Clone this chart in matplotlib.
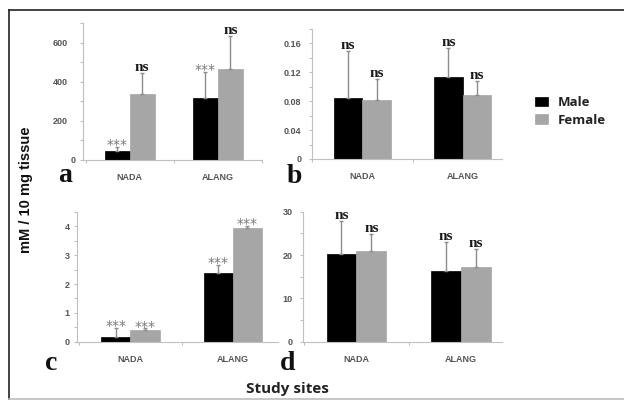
import numpy as np
import matplotlib
matplotlib.use("Agg")
import matplotlib.pyplot as plt
from matplotlib.lines import Line2D
from matplotlib.ticker import FixedLocator, MultipleLocator

# data
sites = ["NADA", "ALANG"]

male_a = [46, 318]
male_a_sd = [22, 132]
female_a = [340, 464]
female_a_sd = [105, 170]
sig_male_a = ["***", "***"]
sig_female_a = ["ns", "ns"]

male_b = [0.084, 0.114]
male_b_sd = [0.065, 0.040]
female_b = [0.082, 0.089]
female_b_sd = [0.029, 0.019]
sig_male_b = ["ns", "ns"]
sig_female_b = ["ns", "ns"]

male_c = [0.17, 2.38]
male_c_sd = [0.32, 0.29]
female_c = [0.41, 3.94]
female_c_sd = [0.05, 0.06]
sig_male_c = ["***", "***"]
sig_female_c = ["***", "***"]

male_d = [20.2, 16.3]
male_d_sd = [7.7, 6.8]
female_d = [20.9, 17.3]
female_d_sd = [4.0, 4.0]
sig_male_d = ["ns", "ns"]
sig_female_d = ["ns", "ns"]

W, H = 624, 408
fig = plt.figure(figsize=(W / 100, H / 100), dpi=100)

MALE_C = "#000000"
FEMALE_C = "#a6a6a6"
AXIS_C = "#c0c0c0"
TICK_TXT = "#555555"


def px_rect(x0, x1, y0, y1):
    # pixel box (top-left origin) -> figure fraction
    return [x0 / W, 1 - y1 / H, (x1 - x0) / W, (y1 - y0) / H]


def panel(rect, male, male_sd, female, female_sd, sig_m, sig_f,
          ylim, major, minor, labels, xlim, ypad):
    ax = fig.add_axes(rect)
    x = np.arange(len(sites))
    bw = 0.285
    zeros = np.zeros(len(sites))
    bm = ax.bar(x - bw / 2, male, bw, color=MALE_C, edgecolor="#000000", lw=0.5,
                yerr=[zeros, male_sd], ecolor="#8c8c8c",
                error_kw=dict(elinewidth=1.0, capsize=1.5, capthick=1.0))
    bf = ax.bar(x + bw / 2, female, bw, color=FEMALE_C, edgecolor=FEMALE_C, lw=0.5,
                yerr=[zeros, female_sd], ecolor="#8c8c8c",
                error_kw=dict(elinewidth=1.0, capsize=1.5, capthick=1.0))
    for xs, vals, sds, sigs in ((x - bw / 2, male, male_sd, sig_m),
                                (x + bw / 2, female, female_sd, sig_f)):
        for xi, v, s, t in zip(xs, vals, sds, sigs):
            if t == "ns":
                ax.annotate(t, (xi, v + s), xytext=(0, 1.5), textcoords="offset points",
                            ha="center", va="baseline", fontsize=11,
                            family="Liberation Serif", fontweight="bold", color="#1a1a1a")
            else:
                ax.annotate(t, (xi, v + s), xytext=(0, -1.5), textcoords="offset points",
                            ha="center", va="baseline", fontsize=10,
                            family="DejaVu Sans", color="#7a7a7a")
    ax.set_xlim(*xlim)
    ax.set_ylim(*ylim)
    for s in ("top", "right"):
        ax.spines[s].set_visible(False)
    for s in ("left", "bottom"):
        ax.spines[s].set_color(AXIS_C)
        ax.spines[s].set_linewidth(0.8)
    ax.set_xticks(x)
    ax.set_xticklabels(sites)
    ax.xaxis.set_minor_locator(FixedLocator([-0.5, 0.5, 1.5]))
    ax.tick_params(axis="x", which="major", length=0, pad=9.5, labelsize=6.5,
                   labelcolor=TICK_TXT)
    ax.tick_params(axis="x", which="minor", length=2.5, color=AXIS_C, width=0.8)
    ax.set_yticks(major)
    ax.set_yticklabels(labels)
    ax.yaxis.set_minor_locator(MultipleLocator(minor))
    ax.tick_params(axis="y", which="both", length=2.5, color=AXIS_C, width=0.8,
                   direction="out")
    ax.tick_params(axis="y", which="major", pad=ypad, labelsize=6.5, labelcolor=TICK_TXT)
    for lab in ax.get_xticklabels() + ax.get_yticklabels():
        lab.set_fontweight("bold")
        lab.set_family("Liberation Sans")
    return ax, bm, bf


ax_a, _, _ = panel(px_rect(83, 262, 23.3, 160), male_a, male_a_sd, female_a, female_a_sd,
                   sig_male_a, sig_female_a, (0, 700), [0, 200, 400, 600], 100,
                   ["0", "200", "400", "600"], (-0.53, 1.5), 8.5)
# the zero label in panel a sits closer to the axis in the original
ax_a.yaxis.get_major_ticks()[0].set_pad(2.5)

ax_b, bm, bf = panel(px_rect(312, 502, 29, 159), male_b, male_b_sd, female_b, female_b_sd,
                     sig_male_b, sig_female_b, (0, 0.18), [0, 0.04, 0.08, 0.12, 0.16], 0.02,
                     ["0", "0.04", "0.08", "0.12", "0.16"], (-0.5, 1.39), 5)

panel(px_rect(77, 278, 212, 341.7), male_c, male_c_sd, female_c, female_c_sd,
      sig_male_c, sig_female_c, (0, 4.5), [0, 1, 2, 3, 4], 0.5,
      ["0", "1", "2", "3", "4"], (-0.52, 1.44), 3)

panel(px_rect(303, 502, 211.7, 341.7), male_d, male_d_sd, female_d, female_d_sd,
      sig_male_d, sig_female_d, (0, 30), [0, 10, 20, 30], 5,
      ["0", "10", "20", "30"], (-0.51, 1.39), 5)

# panel letters
for t, xp, yp in (("a", 58, 182), ("b", 287, 183), ("c", 45, 370), ("d", 280, 370)):
    fig.text(xp / W, 1 - yp / H, t, ha="left", va="baseline", fontsize=20,
             family="Liberation Serif", fontweight="bold", color="#111111")

fig.text(26 / W, 1 - 190 / H, "mM / 10 mg tissue", rotation=90, ha="center", va="center",
         fontsize=10.5, family="Liberation Sans", fontweight="bold", color="#111111")
fig.text(287 / W, 1 - 389 / H, "Study sites", ha="center", va="center",
         fontsize=11, family="Open Sans", fontweight="bold", color="#222222")

fig.legend([bm, bf], ["Male", "Female"], loc="upper left",
           bbox_to_anchor=(535 / W, 1 - 96 / H), frameon=False,
           borderpad=0, borderaxespad=0, handlelength=1.0, handleheight=0.75,
           handletextpad=0.7, labelspacing=0.35,
           prop=dict(family="Open Sans", weight="bold", size=9.5), labelcolor="#222222")

# outer frame
fig.add_artist(Line2D([9 / W, 1], [1 - 10 / H, 1 - 10 / H], color="#222222", lw=1.2))
fig.add_artist(Line2D([9 / W, 9 / W], [1 - 10 / H, 1 - 399 / H], color="#222222", lw=1.2))
fig.add_artist(Line2D([9 / W, 1], [1 - 399 / H, 1 - 399 / H], color="#bdbdbd", lw=1.2))

fig.savefig("out.png", dpi=100)
